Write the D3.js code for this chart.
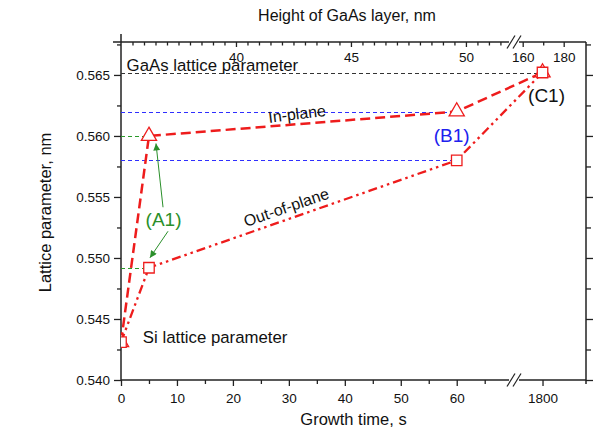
<!DOCTYPE html>
<html><head><meta charset="utf-8">
<script src="https://cdn.jsdelivr.net/npm/d3@7"></script>
<style>
body{margin:0;background:#fff;}
svg{display:block;font-family:"Liberation Sans",Arial,sans-serif;}
</style></head>
<body><svg id="c" width="600" height="437"></svg>
<script>
// ---- data ----
const times = [0, 5, 60, 1800];                       // growth time, s
const inPlane = [0.5431, 0.5600, 0.5620, 0.5652];      // lattice parameter, nm
const outOfPlane = [0.5431, 0.5492, 0.5580, 0.5652];   // lattice parameter, nm
const yTicks = [0.540, 0.545, 0.550, 0.555, 0.560, 0.565];
const yMinor = [0.5425, 0.5475, 0.5525, 0.5575, 0.5625, 0.5675];
const xTicks1 = [0, 10, 20, 30, 40, 50, 60];
const xMinor1 = [5, 15, 25, 35, 45, 55, 65];
const xTicks2 = [1800];
const hTicks1 = [40, 45, 50];
const hMinor1 = d3.range(35.5, 52, 0.5).filter(v => v % 5 !== 0);
const hTicks2 = [160, 180];
const hMinor2 = [170];
const refLines = [
  {v: 0.5652, t: 1800, color: "#333"},
  {v: 0.5620, t: 60, color: "#2f2fff"},
  {v: 0.5580, t: 60, color: "#2f2fff"},
  {v: 0.5600, t: 5, color: "#2a9a2a"},
  {v: 0.5492, t: 5, color: "#2a9a2a"}
];

// ---- layout ----
const L = 121, R = 586, T = 42, B = 380, brkA = 511, brkB = 517;
const svg = d3.select("#c");
const y = d3.scaleLinear().domain([0.540, 0.5677]).range([B, T]);
const x1 = d3.scaleLinear().domain([0, 69.7]).range([L, brkA]);
const x2 = d3.scaleLinear().domain([1795.44, 1807.77]).range([brkB, R]);
const xp = t => t < 500 ? x1(t) : x2(t);
const h1 = d3.scaleLinear().domain([35, 51.96]).range([L, brkA]);
const h2 = d3.scaleLinear().domain([157.22, 190.88]).range([brkB, R]);

const axisCol = "#222", red = "#ee1c1c", green = "#2a8f2a";
const tickFont = "13.5px";

function styleAxis(g, labels) {
  g.select(".domain").remove();
  g.selectAll("line").attr("stroke", axisCol).attr("stroke-width", 1.3);
  g.selectAll("text").attr("fill", "#111").style("font-size", tickFont)
    .style("font-family", '"Liberation Sans",Arial,sans-serif');
  if (!labels) g.selectAll("text").remove();
}

// left axis
svg.append("g").attr("transform", `translate(${L},0)`)
  .call(d3.axisLeft(y).tickValues(yTicks).tickFormat(d3.format(".3f")).tickSize(7).tickPadding(4))
  .call(g => styleAxis(g, true));
svg.append("g").attr("transform", `translate(${L},0)`)
  .call(d3.axisLeft(y).tickValues(yMinor).tickSize(4)).call(g => styleAxis(g, false));
// right axis (inward)
svg.append("g").attr("transform", `translate(${R},0)`)
  .call(d3.axisLeft(y).tickValues(yTicks).tickSize(-7)).call(g => styleAxis(g, false));
svg.append("g").attr("transform", `translate(${R},0)`)
  .call(d3.axisLeft(y).tickValues(yMinor).tickSize(-5)).call(g => styleAxis(g, false));
// bottom axis
svg.append("g").attr("transform", `translate(0,${B})`)
  .call(d3.axisBottom(x1).tickValues(xTicks1).tickFormat(d3.format("d")).tickSize(6).tickPadding(7))
  .call(g => styleAxis(g, true));
svg.append("g").attr("transform", `translate(0,${B})`)
  .call(d3.axisBottom(x1).tickValues(xMinor1).tickSize(4)).call(g => styleAxis(g, false));
svg.append("g").attr("transform", `translate(0,${B})`)
  .call(d3.axisBottom(x2).tickValues(xTicks2).tickFormat(d3.format("d")).tickSize(6).tickPadding(7))
  .call(g => styleAxis(g, true));
// top axis (ticks and labels inside)
svg.append("g").attr("transform", `translate(0,${T})`)
  .call(d3.axisBottom(h1).tickValues(hTicks1).tickFormat(d3.format("d")).tickSize(5).tickPadding(5))
  .call(g => styleAxis(g, true));
svg.append("g").attr("transform", `translate(0,${T})`)
  .call(d3.axisBottom(h1).tickValues(hMinor1).tickSize(3.5)).call(g => styleAxis(g, false));
svg.append("g").attr("transform", `translate(0,${T})`)
  .call(d3.axisBottom(h2).tickValues(hTicks2).tickFormat(d3.format("d")).tickSize(5).tickPadding(5))
  .call(g => styleAxis(g, true));
svg.append("g").attr("transform", `translate(0,${T})`)
  .call(d3.axisBottom(h2).tickValues(hMinor2).tickSize(3.5)).call(g => styleAxis(g, false));

// axis lines with breaks
const frame = svg.append("g").attr("stroke", axisCol).attr("stroke-width", 1.5).attr("fill", "none");
frame.append("line").attr("x1", L).attr("x2", L).attr("y1", T - 8).attr("y2", B);
frame.append("line").attr("x1", R).attr("x2", R).attr("y1", T).attr("y2", B + 4);
frame.append("line").attr("x1", L).attr("x2", brkA - 2).attr("y1", B).attr("y2", B);
frame.append("line").attr("x1", brkB + 2).attr("x2", R).attr("y1", B).attr("y2", B);
frame.append("line").attr("x1", L - 8).attr("x2", brkA - 2).attr("y1", T).attr("y2", T);
frame.append("line").attr("x1", brkB + 2).attr("x2", R).attr("y1", T).attr("y2", T);
[B, T].forEach(yy => {
  [brkA, brkB].forEach(cx => {
    frame.append("line").attr("x1", cx - 4).attr("y1", yy + 6.5).attr("x2", cx + 4).attr("y2", yy - 6.5)
      .attr("stroke-width", 1.2);
  });
});

// clip
const defs = svg.append("defs");
defs.append("clipPath").attr("id", "clip")
  .append("rect").attr("x", L).attr("y", T).attr("width", R - L).attr("height", B - T);
defs.append("marker").attr("id", "arr").attr("viewBox", "0 0 10 10").attr("refX", 10).attr("refY", 5)
  .attr("markerWidth", 9).attr("markerHeight", 7).attr("markerUnits", "userSpaceOnUse").attr("orient", "auto")
  .append("path").attr("d", "M0,0 L10,5 L0,10 Z").attr("fill", green);

const plot = svg.append("g").attr("clip-path", "url(#clip)");

// reference dashed lines
plot.selectAll(".ref").data(refLines).join("line")
  .attr("x1", L).attr("x2", d => xp(d.t))
  .attr("y1", d => Math.round(y(d.v)) + 0.5).attr("y2", d => Math.round(y(d.v)) + 0.5)
  .attr("stroke", d => d.color).attr("stroke-width", 1).attr("stroke-dasharray", "4,3")
  .attr("shape-rendering", "crispEdges");

// series lines
const pts = arr => times.map((t, i) => ({t, v: arr[i]}));
const line = d3.line().x(d => xp(d.t)).y(d => y(d.v));
plot.append("path").datum(pts(inPlane)).attr("d", line).attr("fill", "none")
  .attr("stroke", red).attr("stroke-width", 2.5).attr("stroke-dasharray", "10,5");
plot.append("path").datum(pts(outOfPlane)).attr("d", line).attr("fill", "none")
  .attr("stroke", red).attr("stroke-width", 2.3).attr("stroke-dasharray", "9,4,2.5,4,2.5,4");

// markers
plot.selectAll(".tri").data(pts(inPlane)).join("path")
  .attr("transform", d => `translate(${xp(d.t)},${y(d.v)})`)
  .attr("d", d3.symbol(d3.symbolTriangle, 100))
  .attr("fill", "white").attr("stroke", red).attr("stroke-width", 1.3);
plot.selectAll(".sq").data(pts(outOfPlane)).join("path")
  .attr("transform", d => `translate(${xp(d.t)},${y(d.v)})`)
  .attr("d", d3.symbol(d3.symbolSquare, 110))
  .attr("fill", "white").attr("stroke", red).attr("stroke-width", 1.3);

// annotations
const txt = (s, px, py, size, color, anchor, rot) => svg.append("text")
  .attr("transform", `translate(${px},${py})` + (rot ? ` rotate(${rot})` : ""))
  .attr("text-anchor", anchor || "start").attr("fill", color)
  .style("font-size", size).text(s);
txt("GaAs lattice parameter", x1(1.0), y(0.56533), "16.8px", "#111");
txt("Si lattice parameter", x1(3.9), y(0.54303), "16.8px", "#111");
txt("In-plane", x1(26.45), y(0.56107), "16px", "#111", "start", -7);
txt("Out-of-plane", x1(22.34), y(0.55254), "16px", "#111", "start", -19);
txt("(A1)", x1(7.6), y(0.5526), "19px", green, "middle");
txt("(B1)", xp(60) - 5, y(0.558) - 18, "19px", "#2020ee", "middle");
txt("(C1)", xp(1800) + 4, y(0.5652) + 29.5, "19px", "#111", "middle");

// A1 arrows
const lx = x1(7.6), ly = y(0.5526);
svg.append("line").attr("x1", lx - 0.5).attr("y1", ly - 19).attr("x2", x1(5) + 7).attr("y2", y(0.560) + 7.5)
  .attr("stroke", green).attr("stroke-width", 1).attr("marker-end", "url(#arr)");
svg.append("line").attr("x1", lx + 4.5).attr("y1", ly + 5).attr("x2", x1(5) + 1).attr("y2", y(0.5492) - 10)
  .attr("stroke", green).attr("stroke-width", 1).attr("marker-end", "url(#arr)");

// axis titles
txt("Lattice parameter, nm", 51, 212.5, "16.5px", "#111", "middle", -90);
txt("Growth time, s", 353.5, 425, "16.5px", "#111", "middle");
txt("Height of GaAs layer, nm", 347, 21, "16px", "#111", "middle");
</script>
</body></html>
